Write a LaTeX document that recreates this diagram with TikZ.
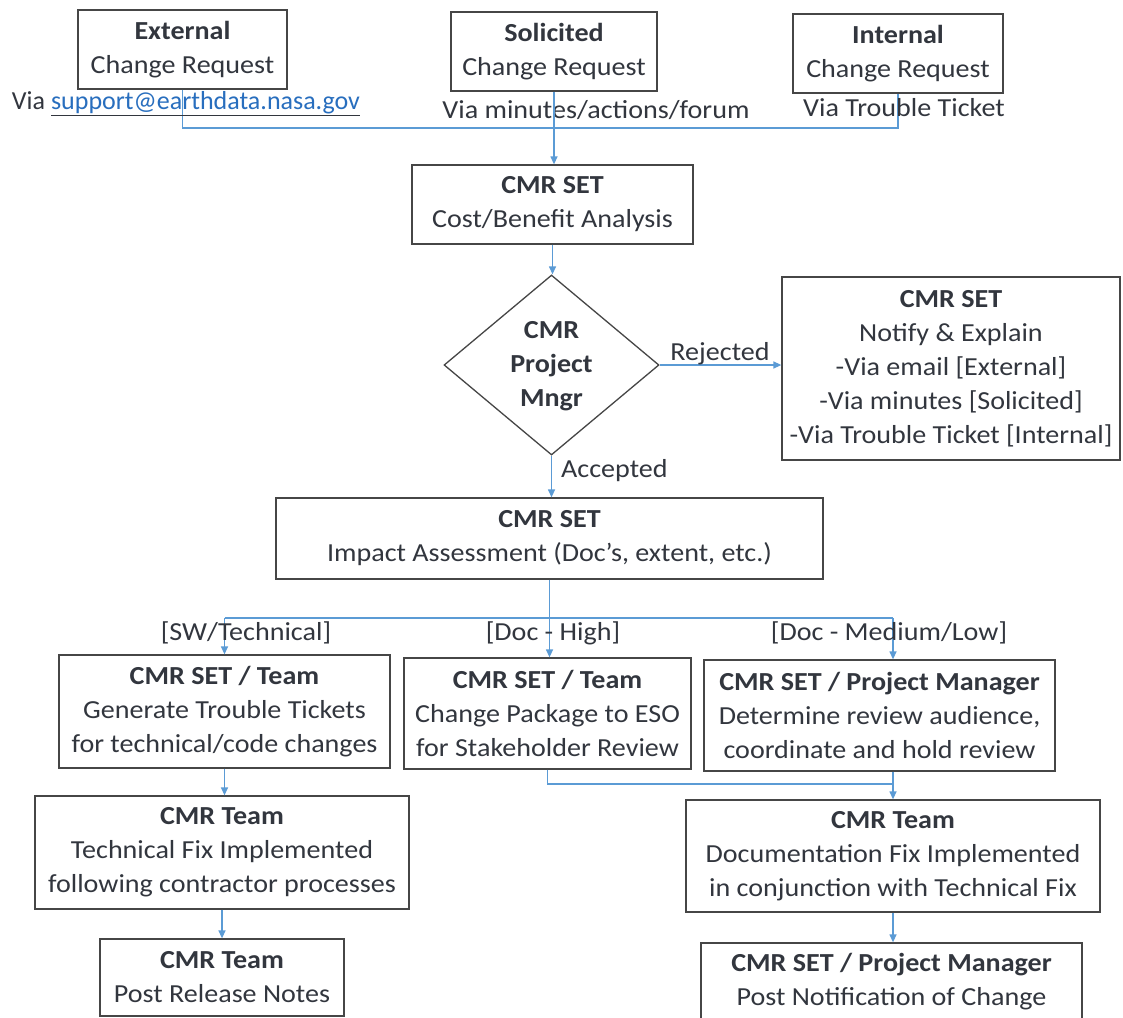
\documentclass[tikz,border=0pt]{standalone}
\usepackage{fontspec}
\setmainfont{Carlito}[FakeStretch=1.08]
\newfontfamily\plainfont{Carlito}
\usetikzlibrary{shapes.geometric,arrows.meta}
\definecolor{boxgray}{RGB}{70,70,70}
\definecolor{txt}{RGB}{50,54,62}
\definecolor{lblue}{RGB}{91,155,213}
\definecolor{linkblue}{RGB}{40,110,190}
\begin{document}
\begin{tikzpicture}[x=1pt,y=-1pt,
  box/.style={draw=boxgray, line width=1.3pt, align=center, inner sep=0pt, text=txt, font=\fontsize{26}{34}\selectfont},
  lbl/.style={inner sep=0pt, text=txt, font=\fontsize{26}{34}\selectfont},
  conn/.style={draw=lblue, line width=1.3pt},
  arr/.style={conn, -{Triangle[length=8pt,width=7pt]}}]
\useasboundingbox[fill=white] (0,0) rectangle (1123,1017);

% top boxes
\node[box, minimum width=209pt, minimum height=79pt] (ext) at (182.5,49.5) {\textbf{External}\\Change Request};
\node[box, minimum width=206pt, minimum height=79pt] (sol) at (554,51.5) {\textbf{Solicited}\\Change Request};
\node[box, minimum width=210pt, minimum height=79pt] (int) at (898,53.5) {\textbf{Internal}\\Change Request};

\coordinate (hb) at (0,128);
\draw[conn] (ext.south) -- (ext.south |- hb) -- (int.south |- hb) -- (int.south);

\node[lbl, font=\fontsize{26}{34}\plainfont] (viaext) at (186,104) {Via \underline{\textcolor{linkblue}{support@earthdata.nasa.gov}}};
\node[lbl] (viasol) at (596,110) {Via minutes/actions/forum};
\node[lbl] (viaint) at (904,108) {Via Trouble Ticket};

\node[box, minimum width=281pt, minimum height=79pt] (cba) at (552.5,204.5) {\textbf{CMR SET}\\Cost/Benefit Analysis};
\draw[arr] (sol.south) -- (sol.south |- cba.north);

% decision
\node[draw=boxgray, line width=1.3pt, diamond, minimum width=215pt, minimum height=180pt, inner sep=0pt] (pm) at (551.5,365) {};
\node[lbl, align=center] (pmtext) at (551.5,366) {\textbf{CMR}\\\textbf{Project}\\\textbf{Mngr}};
\draw[arr] (cba.south) -- (cba.south |- pm.north);

\node[box, minimum width=338pt, minimum height=183pt] (notify) at (951,368.5) {\textbf{CMR SET}\\Notify \& Explain\\-Via email [External]\\-Via minutes [Solicited]\\-Via Trouble Ticket [Internal]};
\draw[arr] (pm.east) -- (pm.east -| notify.west);
\node[lbl] (rej) at (720,354) {Rejected};

\node[box, minimum width=547pt, minimum height=81pt] (impact) at (549.5,538.5) {\textbf{CMR SET}\\Impact Assessment (Doc’s, extent, etc.)};
\draw[arr] (pm.south) -- (pm.south |- impact.north);
\node[lbl, anchor=west] (acc) at (561,471) {Accepted};

% branch boxes
\node[box, minimum width=331pt, minimum height=113pt] (gtt) at (224.5,711.5) {\textbf{CMR SET / Team}\\Generate Trouble Tickets\\for technical/code changes};
\node[box, minimum width=287pt, minimum height=111pt] (cp) at (547.5,713.5) {\textbf{CMR SET / Team}\\Change Package to ESO\\for Stakeholder Review};
\node[box, minimum width=351pt, minimum height=111pt] (drv) at (879.5,715.5) {\textbf{CMR SET / Project Manager}\\Determine review audience,\\coordinate and hold review};

\node[box, minimum width=374pt, minimum height=113pt] (tf) at (222,852.5) {\textbf{CMR Team}\\Technical Fix Implemented\\following contractor processes};
\node[box, minimum width=244pt, minimum height=77pt] (prn) at (222,977.5) {\textbf{CMR Team}\\Post Release Notes};
\node[box, minimum width=414pt, minimum height=112pt] (df) at (893,856) {\textbf{CMR Team}\\Documentation Fix Implemented\\in conjunction with Technical Fix};
\node[box, minimum width=381pt, minimum height=78pt] (pn) at (891.5,982) {\textbf{CMR SET / Project Manager}\\Post Notification of Change};

\coordinate (bsplit) at (impact.south |- 0,618);
\draw[conn] (impact.south) -- (bsplit);
\draw[conn] (bsplit -| gtt.north) -- (bsplit -| df.north);
\draw[arr] (bsplit -| gtt.north) -- (gtt.north);
\draw[arr] (bsplit) -- (bsplit |- cp.north);
\draw[arr] (bsplit -| df.north) -- (df.north |- drv.north);

\node[lbl] (swt) at (246,633) {[SW/Technical]};
\node[lbl] (dh) at (553,633) {[Doc - High]};
\node[lbl] (dml) at (889,633) {[Doc - Medium/Low]};

\draw[arr] (gtt.south) -- (gtt.south |- tf.north);
\draw[arr] (tf.south) -- (tf.south |- prn.north);

\coordinate (mj) at (0,784);
\draw[conn] (cp.south) -- (cp.south |- mj) -- (df.north |- mj);
\draw[arr] (df.north |- drv.south) -- (df.north);
\draw[arr] (df.south) -- (df.south |- pn.north);
\end{tikzpicture}
\end{document}
